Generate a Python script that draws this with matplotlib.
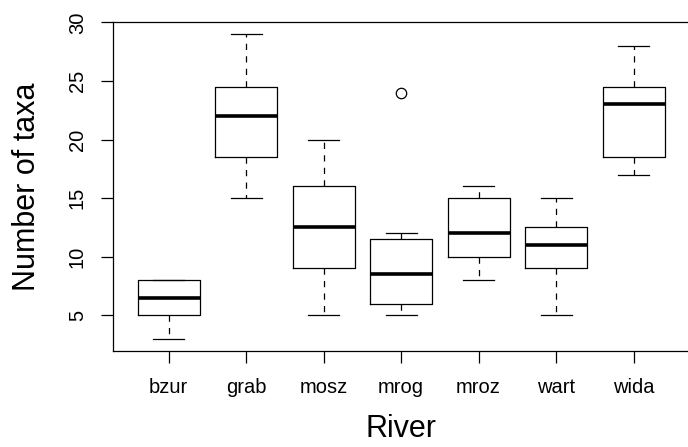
import matplotlib.pyplot as plt

# Number of taxa per river, five-number summaries from the sampling sites
rivers = ["bzur", "grab", "mosz", "mrog", "mroz", "wart", "wida"]
low_whisker = [3, 15, 5, 5, 8, 5, 17]
q1 = [5, 18.5, 9, 6, 10, 9, 18.5]
medians = [6.5, 22, 12.5, 8.5, 12, 11, 23]
q3 = [8, 24.5, 16, 11.5, 15, 12.5, 24.5]
high_whisker = [8, 29, 20, 12, 16, 15, 28]
outliers = [[], [], [], [24], [], [], []]

plt.rcParams['font.family'] = ['Liberation Sans', 'DejaVu Sans']

stats = []
for i, name in enumerate(rivers):
    stats.append({
        "label": name,
        "whislo": low_whisker[i],
        "q1": q1[i],
        "med": medians[i],
        "q3": q3[i],
        "whishi": high_whisker[i],
        "fliers": outliers[i],
    })

fig = plt.figure(figsize=(6.88, 4.47), dpi=100)
# plot region runs a little past the right edge of the figure
ax = fig.add_axes([0.164, 0.215, 0.838, 0.736])

positions = list(range(1, len(rivers) + 1))
ax.bxp(stats, positions=positions, widths=0.8, capwidths=0.4,
       boxprops=dict(color="black", linewidth=0.9),
       medianprops=dict(color="black", linewidth=2.6, solid_capstyle="butt"),
       whiskerprops=dict(color="black", linewidth=0.9, linestyle=(0, (5, 5))),
       capprops=dict(color="black", linewidth=0.9),
       flierprops=dict(marker="o", markerfacecolor="none", markeredgecolor="black",
                       markersize=7.5, markeredgewidth=0.9))

ax.set_xlim(0.28, 7.72)
ax.set_ylim(1.96, 30.04)
ax.set_yticks([5, 10, 15, 20, 25, 30])
ax.set_xticks(positions)
ax.set_xticklabels(rivers)

for lbl in ax.get_yticklabels():
    lbl.set_rotation(90)
    lbl.set_va("center")

ax.tick_params(axis="both", direction="out", length=8.6, width=0.9,
               labelsize=14.5, pad=10)
ax.tick_params(axis="x", pad=11)
for s in ax.spines.values():
    s.set_linewidth(0.9)

ax.set_xlabel("River", fontsize=22, labelpad=12)
ax.set_ylabel("Number of taxa", fontsize=22, labelpad=19)

fig.savefig("out.png", dpi=100)
